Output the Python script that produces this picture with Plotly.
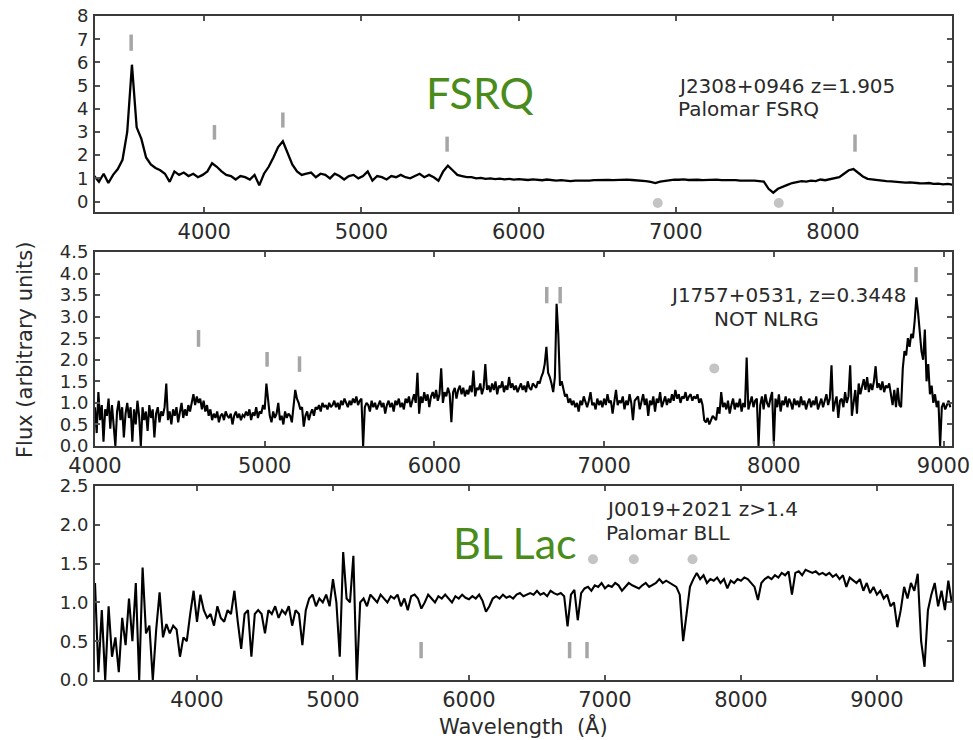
import plotly.graph_objects as go

# ---------------- data ----------------
# Top panel: FSRQ J2308+0946 (uniform grid, start/step in Angstrom)
TOP_WL_START = 3300
TOP_WL_STEP = 30
TOP_FLUX = [
    1.1, 0.85, 1.2, 0.8, 1.15, 1.4, 1.8, 3.0, 5.9, 3.2,
    2.7, 1.9, 1.6, 1.45, 1.35, 1.2, 0.85, 1.3, 1.15, 1.25,
    1.1, 1.2, 1.05, 1.15, 1.3, 1.65, 1.5, 1.3, 1.15, 1.1,
    0.95, 1.1, 1.05, 0.95, 1.15, 0.7, 1.2, 1.5, 1.9, 2.35,
    2.6, 2.1, 1.6, 1.3, 1.15, 1.2, 1.25, 1.05, 1.2, 1.15,
    1.0, 1.2, 1.1, 0.95, 1.1, 1.15, 1.0, 1.1, 1.3, 0.9,
    1.1, 1.05, 0.95, 1.1, 1.05, 1.15, 1.05, 1.0, 1.1, 1.2,
    1.05, 1.15, 1.05, 0.9, 1.3, 1.55, 1.35, 1.15, 1.1, 1.05,
    1.05, 1.0, 1.02, 0.98, 1.0, 0.97, 0.99, 0.96, 0.98, 0.95,
    0.97, 0.95, 0.93, 0.96, 0.94, 0.92, 0.95, 0.93, 0.9, 0.92,
    0.9, 0.88, 0.9, 0.89, 0.91, 0.9, 0.92, 0.93, 0.91, 0.93,
    0.92, 0.94, 0.93, 0.95, 0.93, 0.92, 0.9, 0.88, 0.85, 0.8,
    0.86, 0.9, 0.93, 0.95, 0.94, 0.96, 0.93, 0.95, 0.94, 0.92,
    0.94, 0.93, 0.95, 0.92, 0.93, 0.91, 0.92, 0.9, 0.91, 0.89,
    0.9, 0.88, 0.86, 0.55, 0.38, 0.55, 0.65, 0.72, 0.8, 0.85,
    0.88, 0.86, 0.9, 0.88, 0.95, 0.92, 0.96, 0.98, 1.05, 1.2,
    1.35, 1.4, 1.25, 1.08, 0.98, 0.95, 0.92, 0.9, 0.88, 0.87,
    0.85, 0.84, 0.82, 0.83, 0.8, 0.79, 0.78, 0.8, 0.76, 0.77,
    0.74, 0.76, 0.73,
]
TOP_MARK_WL = [3535, 4065, 4500, 5545, 8140]
TOP_MARK_LO = [6.5, 2.67, 3.19, 2.15, 2.15]
TOP_MARK_HI = [7.2, 3.3, 3.84, 2.8, 2.89]
TOP_DOT_WL = [6885, 7655]
TOP_DOT_Y = [-0.06, -0.06]

# Middle panel: J1757+0531
MID_WL_START = 4000
MID_WL_STEP = 10
MID_FLUX = [
    0.9, 0.3, 1.25, 0.6, 0.95, 0.1, 0.85, 0.7, 1.1, 0.4,
    0.95, 0.55, 0.0, 0.8, 1.05, 0.6, 0.9, 0.2, 0.75, 1.0,
    0.65, 0.9, 0.1, 0.85, 0.5, 1.05, 0.7, 0.0, 0.9, 0.6,
    0.8, 0.35, 0.95, 0.65, 0.85, 0.2, 0.75, 0.9, 0.55, 0.8,
    0.7, 0.9, 1.45, 0.6, 0.8, 0.5, 0.85, 0.7, 0.9, 0.55,
    0.75, 1.0, 0.65, 0.85, 0.7, 0.95, 0.8, 1.05, 1.2, 0.95,
    1.15, 1.0, 1.1, 0.85, 1.05, 0.8, 0.95, 0.7, 0.85, 0.6,
    0.75, 0.65, 0.8, 0.55, 0.7, 0.75, 0.6, 0.8, 0.7, 0.65,
    0.75, 0.5, 0.7, 0.8, 0.65, 0.75, 0.6, 0.72, 0.68, 0.8,
    0.7, 0.85, 0.6, 0.78, 0.7, 0.9, 0.65, 0.8, 0.75, 0.95,
    0.85, 1.45, 1.1, 0.7, 0.55, 0.8, 0.65, 0.75, 1.0, 0.6,
    0.7, 0.5, 0.8, 0.65, 0.75, 0.7, 0.55, 0.9, 1.3, 1.1,
    1.0, 0.85, 0.9, 0.45, 0.7, 0.8, 0.6, 0.75, 0.85, 0.7,
    0.9, 0.85, 0.95, 0.8, 1.0, 0.9, 0.95, 0.85, 1.0, 0.9,
    0.95, 1.05, 0.9, 1.0, 0.85, 1.05, 0.95, 1.1, 1.0, 0.9,
    1.05, 0.95, 1.1, 1.0, 1.15, 0.95, 1.05, 1.1, 0.0, 0.9,
    1.0, 0.95, 0.8, 1.05, 0.9, 1.0, 0.85, 0.95, 1.05, 0.9,
    1.0, 0.75, 0.95, 1.05, 0.9, 1.0, 0.8, 1.05, 0.95, 1.1,
    0.9, 1.0, 0.85, 1.1, 1.0, 1.15, 0.9, 1.05, 1.2, 1.0,
    1.7, 0.75, 1.15, 1.0, 1.25, 1.05, 1.2, 0.9, 1.15, 1.25,
    1.1, 1.3, 1.05, 1.2, 1.8, 1.0, 1.25, 1.15, 1.35, 1.2,
    0.55, 1.25, 1.35, 1.1, 1.3, 1.4, 1.2, 1.35, 1.15, 1.3,
    1.2, 1.4, 1.25, 1.75, 1.15, 1.35, 1.3, 1.45, 1.2, 1.35,
    1.9, 1.3, 1.4, 1.25, 1.45, 1.3, 1.5, 1.2, 1.4, 1.35,
    1.5, 1.25, 1.4, 1.3, 1.6, 1.35, 1.45, 1.3, 1.4, 1.25,
    1.35, 1.45, 1.3, 1.4, 1.25, 1.5, 1.35, 1.3, 1.45, 1.4,
    1.35, 1.5, 1.45, 1.6, 1.7, 1.9, 2.3, 1.7, 1.6, 1.45,
    1.25, 1.6, 3.3, 2.6, 1.4, 1.5, 1.3, 1.15, 1.2, 1.0,
    1.1, 0.95, 1.05, 0.9, 1.0, 0.8, 1.05, 0.95, 1.15, 1.0,
    0.9, 1.05, 1.25, 0.95, 1.0, 0.85, 1.1, 0.95, 1.05, 0.9,
    1.1, 0.95, 1.2, 1.0, 1.05, 0.75, 1.1, 1.3, 0.95, 1.05,
    1.0, 1.15, 0.85, 1.05, 0.95, 1.2, 1.0, 0.6, 1.05, 1.1,
    1.15, 0.85, 1.0, 1.2, 0.95, 1.1, 0.7, 1.05, 0.95, 1.15,
    0.8, 1.1, 1.0, 1.25, 0.9, 1.05, 1.15, 0.95, 1.1, 1.0,
    1.2, 1.05, 1.3, 1.1, 1.2, 1.0, 1.15, 1.1, 1.25, 1.05,
    1.15, 1.2, 1.05, 1.15, 1.1, 1.2, 1.0, 1.1, 0.95, 0.6,
    0.55, 0.65, 0.5, 0.6, 0.7, 0.65, 0.6, 0.9, 0.75, 1.25,
    0.9, 1.0, 0.85, 1.05, 0.75, 0.95, 1.1, 0.85, 1.0, 0.9,
    1.1, 0.8, 1.0, 0.9, 2.05, 0.85, 1.0, 1.15, 0.9, 1.05,
    1.1, 0.0, 0.95, 1.15, 0.85, 1.2, 1.0, 0.9, 1.1, 1.25,
    0.05, 1.1, 0.9, 1.2, 0.8, 1.05, 0.95, 1.15, 0.9, 1.1,
    1.0, 0.85, 1.1, 0.95, 1.05, 0.9, 1.15, 0.95, 1.05, 0.85,
    1.0, 1.1, 0.9, 1.05, 0.95, 1.15, 0.85, 1.0, 1.1, 0.9,
    1.05, 1.2, 0.95, 1.1, 1.87, 0.8, 1.0, 1.15, 0.65, 1.05,
    1.1, 0.9, 1.25, 1.0, 1.15, 1.87, 0.7, 1.05, 1.3, 0.75,
    1.45, 1.2, 1.35, 1.55, 1.3, 1.6, 1.25, 1.45, 1.3, 1.5,
    1.85, 1.35, 1.45, 1.3, 1.5, 1.25, 1.4, 1.35, 1.45, 1.2,
    0.95, 1.3, 0.9, 1.35, 0.95, 0.9, 1.8, 2.2, 2.1, 2.5,
    2.3, 2.6, 2.5, 2.9, 3.45, 3.1, 2.7, 2.2, 2.0, 2.7,
    1.5, 1.9, 1.2, 1.4, 1.0, 1.2, 0.9, 1.05, 0.0, 0.9,
    1.0, 0.85, 0.95, 1.05, 0.9,
]
MID_MARK_WL = [4610, 5014, 5205, 6662, 6741, 8838]
MID_MARK_LO = [2.3, 1.84, 1.72, 3.31, 3.31, 3.8]
MID_MARK_HI = [2.69, 2.18, 2.08, 3.69, 3.69, 4.15]
MID_DOT_WL = [7649]
MID_DOT_Y = [1.80]

# Bottom panel: BL Lac J0019+2021
BOT_WL_START = 3250
BOT_WL_STEP = 25
BOT_FLUX = [
    1.25, 0.1, 0.9, 0.0, 0.95, 0.3, 0.55, 0.1,
    0.8, 0.45, 1.05, 0.5, 1.25, 0.0, 1.45, 0.6,
    0.7, 0.0, 0.65, 1.13, 0.55, 0.72, 0.6, 0.7,
    0.65, 0.3, 0.55, 0.5, 0.85, 1.15, 0.75, 1.1,
    0.9, 0.8, 0.85, 0.7, 0.95, 0.8, 0.75, 0.9,
    0.85, 1.15, 0.75, 0.4, 0.85, 0.9, 0.3, 0.85,
    0.9, 0.85, 0.6, 0.9, 0.85, 0.95, 0.8, 0.9,
    0.85, 0.95, 0.7, 0.9, 0.85, 0.45, 0.9, 1.05,
    1.1, 0.95, 1.05, 1.0, 1.1, 0.95, 1.3, 1.0,
    0.3, 1.65, 1.05, 1.0, 1.6, 0.0, 1.0, 1.05,
    0.95, 1.1, 1.05, 1.0, 1.1, 1.05, 1.0, 1.08,
    1.05, 1.1, 0.95, 1.05, 0.9, 1.08, 1.1, 1.05,
    0.92, 1.0, 1.1, 1.05, 1.0, 1.08, 1.05, 1.1,
    1.05, 1.0, 1.08, 1.05, 1.1, 1.06, 1.04, 1.08,
    1.05, 1.1, 1.02, 0.88, 0.95, 1.05, 1.08, 1.05,
    1.1, 1.06, 1.08, 1.05, 1.1, 1.12, 1.08, 1.1,
    1.12, 1.1, 1.15, 1.1, 1.12, 1.08, 1.15, 1.12,
    1.1, 1.12, 1.08, 0.69, 1.1, 1.16, 0.77, 1.12,
    1.18, 1.2, 1.15, 1.22, 1.2, 1.25, 1.18, 1.22,
    1.2, 1.25, 1.22, 1.15, 1.2, 1.25, 1.22, 1.2,
    1.18, 1.22, 1.25, 1.2, 1.22, 1.25, 1.3, 1.25,
    1.28, 1.25, 1.22, 1.2, 1.1, 0.5, 0.85, 1.2,
    1.3, 1.38, 1.3, 1.35, 1.25, 1.3, 1.28, 1.32,
    1.25, 1.3, 1.18, 1.28, 1.25, 1.3, 1.28, 1.32,
    1.3, 1.25, 1.2, 1.03, 1.25, 1.3, 1.33, 1.3,
    1.35, 1.32, 1.38, 1.35, 1.4, 1.1, 1.38, 1.4,
    1.35, 1.42, 1.4, 1.38, 1.4, 1.36, 1.38, 1.35,
    1.38, 1.33, 1.36, 1.3, 1.35, 1.2, 1.32, 1.28,
    1.25, 1.3, 1.15, 1.25, 1.12, 1.2, 1.1, 1.15,
    1.05, 1.1, 0.95, 1.0, 0.68, 0.9, 1.2, 1.05,
    1.25, 1.15, 1.37, 0.5, 0.17, 0.9, 1.1, 1.25,
    0.95, 1.15, 0.9, 1.28, 1.0,
]
BOT_MARK_WL = [5648, 6740, 6868]
BOT_MARK_LO = [0.28, 0.28, 0.28]
BOT_MARK_HI = [0.49, 0.49, 0.49]
BOT_DOT_WL = [6912, 7212, 7644]
BOT_DOT_Y = [1.555, 1.555, 1.555]

X_RANGES = [[3305, 8757], [4000, 9050], [3250, 9552]]
Y_RANGES = [[-0.45, 8.0], [0.0, 4.5], [0.0, 2.5]]
Y_TICKS = [[0, 1, 2, 3, 4, 5, 6, 7, 8],
           [0.0, 0.5, 1.0, 1.5, 2.0, 2.5, 3.0, 3.5, 4.0, 4.5],
           [0.0, 0.5, 1.0, 1.5, 2.0, 2.5]]
X_TICKS = [[4000, 5000, 6000, 7000, 8000],
           [4000, 5000, 6000, 7000, 8000, 9000],
           [4000, 5000, 6000, 7000, 8000, 9000]]

# ---------------- layout helpers ----------------
W, H = 973, 740
# panel pixel boxes (left, top, right, bottom)
PANELS = [(95, 16, 952, 212), (95, 252, 952, 446), (95, 486, 952, 680)]

def px(x):
    return x / W

def py(y):
    return 1 - y / H

fig = go.Figure()

panels = [
    (TOP_WL_START, TOP_WL_STEP, TOP_FLUX, TOP_MARK_WL, TOP_MARK_LO, TOP_MARK_HI, TOP_DOT_WL, TOP_DOT_Y),
    (MID_WL_START, MID_WL_STEP, MID_FLUX, MID_MARK_WL, MID_MARK_LO, MID_MARK_HI, MID_DOT_WL, MID_DOT_Y),
    (BOT_WL_START, BOT_WL_STEP, BOT_FLUX, BOT_MARK_WL, BOT_MARK_LO, BOT_MARK_HI, BOT_DOT_WL, BOT_DOT_Y),
]
LINE_WIDTHS = [2.3, 2.1, 2.1]

FONT = "DejaVu Sans"
XTICKFONT = dict(family=FONT, size=21, color="#2a2a2a")
YTICKFONT = dict(family=FONT, size=18, color="#2a2a2a")

for i, (ws, st, flux, mwl, mlo, mhi, dwl, dy) in enumerate(panels):
    n = i + 1
    xa = "x" if n == 1 else f"x{n}"
    ya = "y" if n == 1 else f"y{n}"
    wl = [ws + st * k for k in range(len(flux))]
    # line identification markers
    mx, my = [], []
    for w, lo, hi in zip(mwl, mlo, mhi):
        mx += [w, w, None]
        my += [lo, hi, None]
    fig.add_trace(go.Scatter(x=mx, y=my, mode="lines", xaxis=xa, yaxis=ya,
                             line=dict(color="#a6a6a6", width=3.5), showlegend=False,
                             hoverinfo="skip"))
    fig.add_trace(go.Scatter(x=dwl, y=dy, mode="markers", xaxis=xa, yaxis=ya,
                             marker=dict(color="#c4c4c4", size=10), showlegend=False,
                             cliponaxis=False, hoverinfo="skip"))
    fig.add_trace(go.Scatter(x=wl, y=flux, mode="lines", xaxis=xa, yaxis=ya,
                             line=dict(color="black", width=LINE_WIDTHS[i]), showlegend=False))

    l, t, r, b = PANELS[i]
    axis_common = dict(showline=True, mirror="allticks", linecolor="#3a3a3a", linewidth=2,
                       ticks="inside", ticklen=5, tickwidth=1.5, tickcolor="#555",
                       showgrid=False, zeroline=False, automargin=False)
    fig.layout[f"xaxis{'' if n == 1 else n}"] = dict(
        domain=[px(l), px(r)], anchor=ya, range=X_RANGES[i], tickfont=XTICKFONT,
        tickvals=X_TICKS[i], ticktext=[str(v) for v in X_TICKS[i]], **axis_common)
    fig.layout[f"yaxis{'' if n == 1 else n}"] = dict(
        domain=[py(b), py(t)], anchor=xa, range=Y_RANGES[i], tickfont=YTICKFONT,
        tickvals=Y_TICKS[i],
        ticktext=[str(v) if i == 0 else f"{v:.1f}" for v in Y_TICKS[i]],
        ticklabelstandoff=1, **axis_common)

ann = []
def text(x, y, s, size=21, color="#2a2a2a", family=FONT, anchor="left", **kw):
    ann.append(dict(x=px(x), y=py(y), xref="paper", yref="paper", text=s, showarrow=False,
                    xanchor=anchor, yanchor="middle",
                    font=dict(family=family, size=size, color=color), **kw))

GREEN = "#4a8c1c"
text(424, 92, "FSRQ", size=43, color=GREEN, family="Lato")
text(451, 542, "BL Lac", size=43, color=GREEN, family="Lato")
text(676, 86, "J2308+0946 z=1.905", size=20)
text(676, 109, "Palomar FSRQ", size=20)
text(908, 295, "J1757+0531, z=0.3448", size=20, anchor="right")
text(766, 319, "NOT NLRG", size=20, anchor="center")
text(604, 509, "J0019+2021 z>1.4", size=20)
text(604, 533, "Palomar BLL", size=20)
text(25, 350, "Flux (arbitrary units)", size=21, anchor="center", textangle=-90)
text(523, 726, "Wavelength\u00a0\u00a0(Å)", size=21, anchor="center")

fig.update_layout(template="none", width=W, height=H, margin=dict(l=0, r=0, t=0, b=0, pad=0),
                  paper_bgcolor="white", plot_bgcolor="white",
                  annotations=ann, showlegend=False)

fig.write_html("out.html")
